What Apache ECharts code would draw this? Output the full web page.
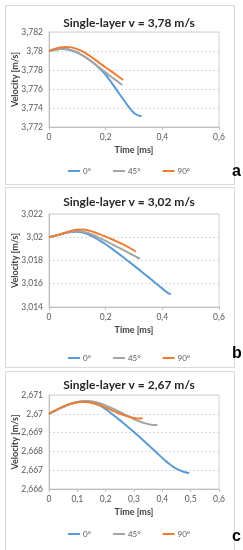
<!DOCTYPE html>
<html><head><meta charset="utf-8">
<script src="https://cdn.jsdelivr.net/npm/echarts@6/dist/echarts.min.js"></script>
<style>html,body{margin:0;padding:0;background:#fff}#c{width:243px;height:550px}</style>
</head><body><div id="c"></div>
<script>
const seriesNames = ['0°', '45°', '90°'];
const panelTitles = ['Single-layer v = 3,78 m/s', 'Single-layer v = 3,02 m/s', 'Single-layer v = 2,67 m/s'];
const panelLetters = ['a', 'b', 'c'];
const yMin = [3.772, 3.014, 2.666];
const yMax = [3.782, 3.022, 2.671];
const yStep = [0.002, 0.002, 0.001];
const xStep = [0.2, 0.2, 0.1];

// Panel a
const a0t = [0,0.02,0.04,0.06,0.08,0.10,0.12,0.14,0.16,0.18,0.20,0.22,0.24,0.26,0.28,0.29,0.30,0.31,0.32,0.327];
const a0v = [3.7800,3.78013,3.78020,3.78018,3.78005,3.77982,3.77950,3.77910,3.77865,3.77812,3.77750,3.77670,3.77585,3.77500,3.77418,3.77380,3.77348,3.77328,3.77318,3.77315];
const a45t = [0,0.02,0.04,0.06,0.08,0.10,0.12,0.14,0.16,0.18,0.20,0.22,0.24,0.25,0.259];
const a45v = [3.7800,3.78012,3.78020,3.78020,3.78008,3.77985,3.77952,3.77913,3.77868,3.77820,3.77773,3.77727,3.77685,3.77660,3.77643];
const a90t = [0,0.02,0.04,0.06,0.08,0.10,0.12,0.14,0.16,0.18,0.20,0.22,0.24,0.25,0.262];
const a90v = [3.7800,3.78022,3.78037,3.78043,3.78038,3.78020,3.77993,3.77957,3.77915,3.77870,3.77826,3.77785,3.77742,3.77718,3.77697];

// Panel b
const b0t = [0,0.02,0.04,0.06,0.08,0.10,0.12,0.14,0.16,0.18,0.20,0.22,0.24,0.26,0.28,0.30,0.32,0.34,0.36,0.38,0.40,0.41,0.42,0.43];
const b0v = [3.0200,3.02012,3.02024,3.02036,3.02045,3.02048,3.02040,3.02022,3.01998,3.01970,3.01940,3.01905,3.01869,3.01832,3.01794,3.01756,3.01717,3.01678,3.01639,3.01598,3.01558,3.01538,3.01520,3.01510];
const b45t = [0,0.02,0.04,0.06,0.08,0.10,0.12,0.14,0.16,0.18,0.20,0.22,0.24,0.26,0.28,0.30,0.31,0.321];
const b45v = [3.0200,3.02012,3.02025,3.02038,3.02050,3.02055,3.02050,3.02035,3.02015,3.01992,3.01968,3.01943,3.01918,3.01893,3.01867,3.01842,3.01828,3.01815];
const b90t = [0,0.02,0.04,0.06,0.08,0.10,0.12,0.14,0.16,0.18,0.20,0.22,0.24,0.26,0.28,0.30,0.306];
const b90v = [3.0200,3.02013,3.02027,3.02042,3.02056,3.02065,3.02066,3.02058,3.02043,3.02025,3.02005,3.01985,3.01963,3.01940,3.01915,3.01886,3.01876];

// Panel c
const c0t = [0,0.02,0.04,0.06,0.08,0.10,0.12,0.14,0.16,0.18,0.20,0.22,0.24,0.26,0.28,0.30,0.32,0.34,0.36,0.38,0.40,0.42,0.44,0.46,0.48,0.495];
const c0v = [2.67000,2.67015,2.67030,2.67043,2.67054,2.67062,2.67065,2.67063,2.67056,2.67043,2.67024,2.67002,2.66978,2.66954,2.66929,2.66903,2.66876,2.66849,2.66821,2.66793,2.66765,2.66739,2.66716,2.66700,2.66689,2.66685];
const c45t = [0,0.02,0.04,0.06,0.08,0.10,0.12,0.14,0.16,0.18,0.20,0.22,0.24,0.26,0.28,0.30,0.32,0.34,0.36,0.375,0.383];
const c45v = [2.67000,2.67015,2.67030,2.67044,2.67055,2.67063,2.67068,2.67068,2.67064,2.67056,2.67045,2.67032,2.67017,2.67002,2.66987,2.66972,2.66959,2.66949,2.66942,2.66940,2.66942];
const c90t = [0,0.02,0.04,0.06,0.08,0.10,0.12,0.14,0.16,0.18,0.20,0.22,0.24,0.26,0.28,0.30,0.32,0.33];
const c90v = [2.67000,2.67017,2.67032,2.67045,2.67055,2.67061,2.67063,2.67061,2.67055,2.67046,2.67034,2.67020,2.67006,2.66994,2.66985,2.66978,2.66975,2.66976];

const panels = [
  [[a0t,a0v],[a45t,a45v],[a90t,a90v]],
  [[b0t,b0v],[b45t,b45v],[b90t,b90v]],
  [[c0t,c0v],[c45t,c45v],[c90t,c90v]]
];
const colors = ['#5B9BD5', '#A5A5A5', '#ED7D31'];
const FONT = 'Lato';

// layout (pixels)
const gridTops = [32, 214, 395];
const gridHeights = [95, 93, 94];
const boxTops = [3, 185, 369];
const boxHeights = [179, 180, 179];
const titleTops = [12, 191, 374];
const legendTops = [162, 349, 525];
const letterTops = [164, 346, 529];

const fmt = v => String(Number(v.toFixed(4))).replace('.', ',');

const option = {
  animation: false,
  backgroundColor: '#fff',
  title: panelTitles.map((t, i) => ({
    text: t, left: 124, top: titleTops[i], textAlign: 'center',
    textStyle: { fontFamily: FONT, fontSize: 12, fontWeight: 'bold', color: '#262626' }
  })),
  grid: gridTops.map((t, i) => ({
    left: 49, top: t, width: 170, height: gridHeights[i],
    show: true, borderColor: '#D0D0D0', borderWidth: 1, backgroundColor: 'transparent'
  })),
  legend: legendTops.map(t => ({
    data: seriesNames, left: 63, top: t, itemGap: 22,
    icon: 'rect', itemWidth: 12, itemHeight: 2,
    textStyle: { fontFamily: FONT, fontSize: 8, color: '#595959', padding: [0, 0, 0, -2] }
  })),
  xAxis: [0, 1, 2].map(i => ({
    type: 'value', gridIndex: i, min: 0, max: 0.6, interval: xStep[i],
    name: 'Time [ms]', nameLocation: 'middle', nameGap: 19, nameMoveOverlap: false,
    nameTextStyle: { fontFamily: FONT, fontSize: 9, fontWeight: 'bold', color: '#404040' },
    axisLine: { show: true, lineStyle: { color: '#BFBFBF' } },
    axisTick: { show: true, length: 3, lineStyle: { color: '#BFBFBF' } },
    splitLine: { show: false },
    axisLabel: { fontFamily: FONT, fontSize: 8.5, color: '#595959', margin: 6, formatter: fmt }
  })),
  yAxis: [0, 1, 2].map(i => ({
    type: 'value', gridIndex: i, min: yMin[i], max: yMax[i], interval: yStep[i],
    name: 'Velocity [m/s]', nameLocation: 'middle', nameGap: 29, nameMoveOverlap: false,
    nameTextStyle: { fontFamily: FONT, fontSize: 9, fontWeight: 'bold', color: '#404040' },
    axisLine: { show: true, lineStyle: { color: '#BFBFBF' } },
    axisTick: { show: false },
    splitLine: { show: true, lineStyle: { color: '#D9D9D9', type: [2, 2] } },
    axisLabel: { fontFamily: FONT, fontSize: 8.5, color: '#595959', margin: 6, formatter: fmt }
  })),
  series: [],
  graphic: []
};

panels.forEach((p, i) => {
  p.forEach(([t, v], k) => {
    option.series.push({
      type: 'line', name: seriesNames[k], xAxisIndex: i, yAxisIndex: i,
      data: t.map((x, j) => [x, v[j]]),
      showSymbol: false, symbol: 'none', smooth: 0.3,
      lineStyle: { color: colors[k], width: 2 }, itemStyle: { color: colors[k] }
    });
  });
  option.graphic.push({
    type: 'rect', left: 3, top: boxTops[i], silent: true, z: -1,
    shape: { width: 229, height: boxHeights[i] },
    style: { fill: 'none', stroke: '#D9D9D9', lineWidth: 1 }
  });
  option.graphic.push({
    type: 'text', left: 232, top: letterTops[i],
    style: { text: panelLetters[i], font: 'bold 16px Liberation Sans', fill: '#000' }
  });
});

const chart = echarts.init(document.getElementById('c'), null, { renderer: 'canvas' });
chart.setOption(option);
</script>
</body></html>
